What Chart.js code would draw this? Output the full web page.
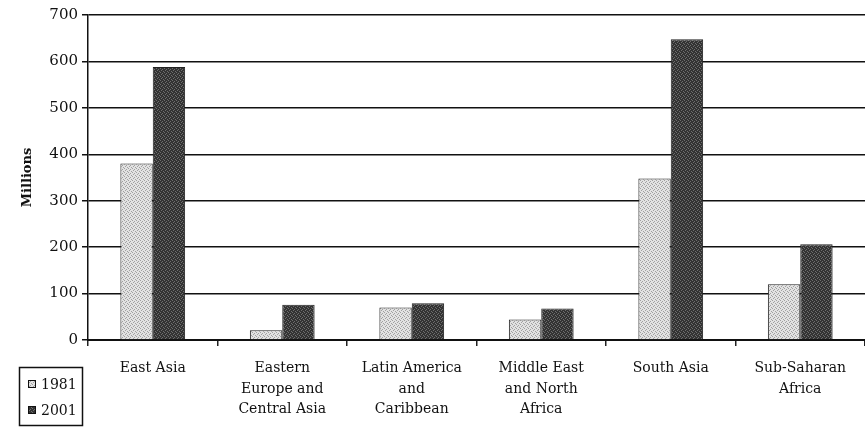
<!DOCTYPE html>
<html>
<head>
<meta charset="utf-8">
<script src="https://cdn.jsdelivr.net/npm/chart.js@4"></script>
<style>
	html, body { margin: 0; padding: 0; background: #fff; }
	#wrap { width: 865px; height: 432px; position: relative; }
</style>
</head>
<body>
<div id="wrap"><canvas id="chart1" width="865" height="432"></canvas></div>
<script>
const regions = [
	'East Asia',
	['Eastern', 'Europe and', 'Central Asia'],
	['Latin America', 'and', 'Caribbean'],
	['Middle East', 'and North', 'Africa'],
	'South Asia',
	['Sub-Saharan', 'Africa']
];
const years = ['1981', '2001'];
const values1981 = [380, 21, 70, 44, 348, 120];
const values2001 = [588, 76, 79, 68, 648, 206];
const yTicks = [0, 100, 200, 300, 400, 500, 600, 700];

const serif = "'DejaVu Serif', 'Liberation Serif', serif";

// small stipple patterns to mimic the printed shading
const makePattern = (base, dot) => {
	let c = document.createElement('canvas');
	c.width = 4;
	c.height = 4;
	let g = c.getContext('2d');
	g.fillStyle = base;
	g.fillRect(0, 0, 4, 4);
	g.fillStyle = dot;
	g.fillRect(0, 0, 1, 1);
	g.fillRect(2, 1, 1, 1);
	g.fillRect(1, 2, 1, 1);
	g.fillRect(3, 3, 1, 1);
	return g.createPattern(c, 'repeat');
};
const lightFill = makePattern('#e2e2e2', '#a0a0a0');
const darkFill = makePattern('#333333', '#6e6e6e');

const boxLegend = {
	id: 'boxLegend',
	afterDraw(chart) {
		let ctx = chart.ctx;
		ctx.save();
		ctx.strokeStyle = '#111';
		ctx.lineWidth = 1.5;
		ctx.strokeRect(19.5, 367.5, 63, 58);
		ctx.font = `14px ${serif}`;
		ctx.textBaseline = 'middle';
		chart.data.datasets.forEach((ds, i) => {
			let y = 384 + i * 26;
			ctx.fillStyle = ds.backgroundColor;
			ctx.fillRect(28, y - 4, 8, 8);
			ctx.lineWidth = 1;
			ctx.strokeRect(28.5, y - 3.5, 7, 7);
			ctx.fillStyle = '#111';
			ctx.fillText(ds.label, 41, y + 1);
		});
		ctx.restore();
	}
};

let c1 = new Chart(document.getElementById('chart1'), {
	type: 'bar',
	data: {
		labels: regions,
		datasets: [
			{
				label: years[0],
				data: values1981,
				backgroundColor: lightFill,
				borderColor: '#222',
				borderWidth: 1
			},
			{
				label: years[1],
				data: values2001,
				backgroundColor: darkFill,
				borderColor: '#222',
				borderWidth: 1
			}
		]
	},
	options: {
		responsive: false,
		animation: false,
		layout: { padding: { top: 15, right: 0, left: 20, bottom: 0 } },
		datasets: {
			bar: { categoryPercentage: 0.5, barPercentage: 1.0 }
		},
		plugins: {
			legend: { display: false },
			tooltip: { enabled: false }
		},
		scales: {
			x: {
				grid: {
					offset: true,
					drawOnChartArea: false,
					drawTicks: true,
					tickLength: 6,
					color: '#222',
					lineWidth: 1.5
				},
				border: { color: '#111', width: 2 },
				ticks: {
					color: '#111',
					maxRotation: 0,
					autoSkip: false,
					padding: 12,
					font: { family: serif, size: 14, lineHeight: 1.47 }
				},
				afterFit: (scale) => {
					scale.height = 92;
				}
			},
			y: {
				min: 0,
				max: 700,
				afterBuildTicks: (scale) => {
					scale.ticks = yTicks.map((v) => ({ value: v }));
				},
				grid: {
					color: '#111',
					lineWidth: 1.5,
					tickLength: 6
				},
				border: { color: '#111', width: 1.5 },
				ticks: {
					color: '#111',
					padding: 4,
					font: { family: serif, size: 15 }
				},
				title: {
					display: true,
					text: 'Millions',
					color: '#111',
					padding: { top: 0, bottom: 0 },
					font: { family: serif, size: 13, weight: 'bold' }
				},
				afterFit: (scale) => {
					scale.width = 68;
				}
			}
		}
	},
	plugins: [boxLegend]
});
</script>
</body>
</html>
